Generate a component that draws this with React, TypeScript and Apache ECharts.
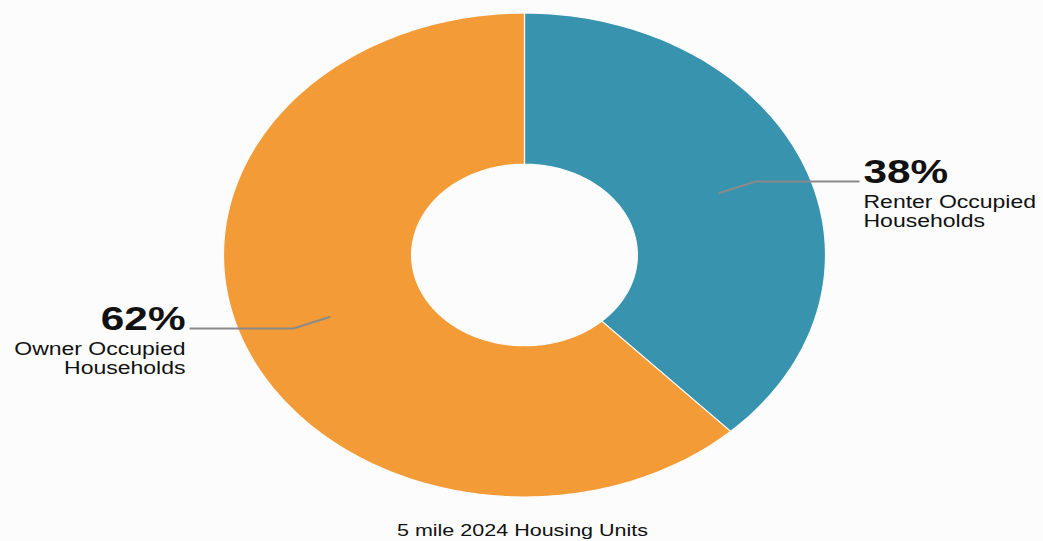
import React, { useEffect, useRef } from 'react';
import * as echarts from 'echarts';

const categories = ['Renter Occupied Households', 'Owner Occupied Households'];
const shares = [38, 62];
const nameLines = [
  ['Renter Occupied', 'Households'],
  ['Owner Occupied', 'Households'],
];
const sliceColors = ['#3893AE', '#F39C37'];
const chartTitle = '5 mile 2024 Housing Units';

// layout (the reference donut is stretched horizontally)
const CX = 524.5;
const CY = 255;
const RX = 301;
const RY = 242;
const INNER = 0.375;
const STRETCH = RX / RY;
const FONT = 'Liberation Sans, Arial, Helvetica, sans-serif';

export default function App() {
  const ref = useRef<HTMLDivElement>(null);

  useEffect(() => {
    const chart = echarts.init(ref.current as HTMLDivElement, null, { renderer: 'svg' });
    const total = shares.reduce((a, b) => a + b, 0);
    const pt = (a: number, r: number) => [CX + RX * r * Math.sin(a), CY - RY * r * Math.cos(a)];

    chart.setOption({
      animation: false,
      backgroundColor: '#fcfcfc',
      graphic: [
        {
          type: 'text',
          x: 522.5,
          y: 529.5,
          scaleX: STRETCH,
          style: {
            text: chartTitle,
            fill: '#111',
            fontSize: 17.3,
            fontFamily: FONT,
            align: 'center',
            verticalAlign: 'middle',
          },
        },
      ],
      series: [
        {
          type: 'custom',
          coordinateSystem: 'none',
          data: shares.map((v, i) => ({ name: categories[i], value: v })),
          renderItem: (params: any, api: any) => {
            const i = params.dataIndex;
            const v = api.value(0) as number;
            const before = shares.slice(0, i).reduce((a, b) => a + b, 0);
            const a0 = (before / total) * Math.PI * 2;
            const a1 = ((before + v) / total) * Math.PI * 2;
            const steps = Math.max(8, Math.ceil(((a1 - a0) * 180) / Math.PI));
            const points: number[][] = [];
            for (let k = 0; k <= steps; k++) points.push(pt(a0 + ((a1 - a0) * k) / steps, 1));
            for (let k = steps; k >= 0; k--) points.push(pt(a0 + ((a1 - a0) * k) / steps, INNER));

            const mid = (a0 + a1) / 2;
            const sign = Math.sin(mid) >= 0 ? 1 : -1;
            const p0 = pt(mid, 0.694);
            const p1 = pt(mid, 0.825);
            const p2 = [CX + sign * RX * 1.113, p1[1]];
            const tx = p2[0] + sign * 4;
            const align = sign > 0 ? 'left' : 'right';
            const pct = Math.round((v / total) * 100) + '%';

            return {
              type: 'group',
              children: [
                {
                  type: 'polygon',
                  shape: { points },
                  style: { fill: sliceColors[i], stroke: '#fcfcfc', lineWidth: 1.2 },
                },
                {
                  type: 'polyline',
                  shape: { points: [p0, p1, p2] },
                  style: { stroke: '#8a8a8a', lineWidth: 2, fill: null },
                },
                {
                  type: 'text',
                  x: tx,
                  y: p2[1] - 10.5,
                  scaleX: STRETCH,
                  style: {
                    text: pct,
                    fill: '#111',
                    fontSize: 34,
                    fontWeight: 'bold',
                    fontFamily: FONT,
                    align,
                    verticalAlign: 'middle',
                  },
                },
                {
                  type: 'text',
                  x: tx,
                  y: p2[1] + 19.5,
                  scaleX: STRETCH,
                  style: {
                    text: nameLines[i][0],
                    fill: '#111',
                    fontSize: 18.5,
                    fontFamily: FONT,
                    align,
                    verticalAlign: 'middle',
                  },
                },
                {
                  type: 'text',
                  x: tx,
                  y: p2[1] + 38.5,
                  scaleX: STRETCH,
                  style: {
                    text: nameLines[i][1],
                    fill: '#111',
                    fontSize: 18.5,
                    fontFamily: FONT,
                    align,
                    verticalAlign: 'middle',
                  },
                },
              ],
            };
          },
        },
      ],
    });

    return () => chart.dispose();
  }, []);

  return (
    <div
      ref={ref}
      style={{ position: 'absolute', left: 0, top: 0, width: 1043, height: 541 }}
    />
  );
}
